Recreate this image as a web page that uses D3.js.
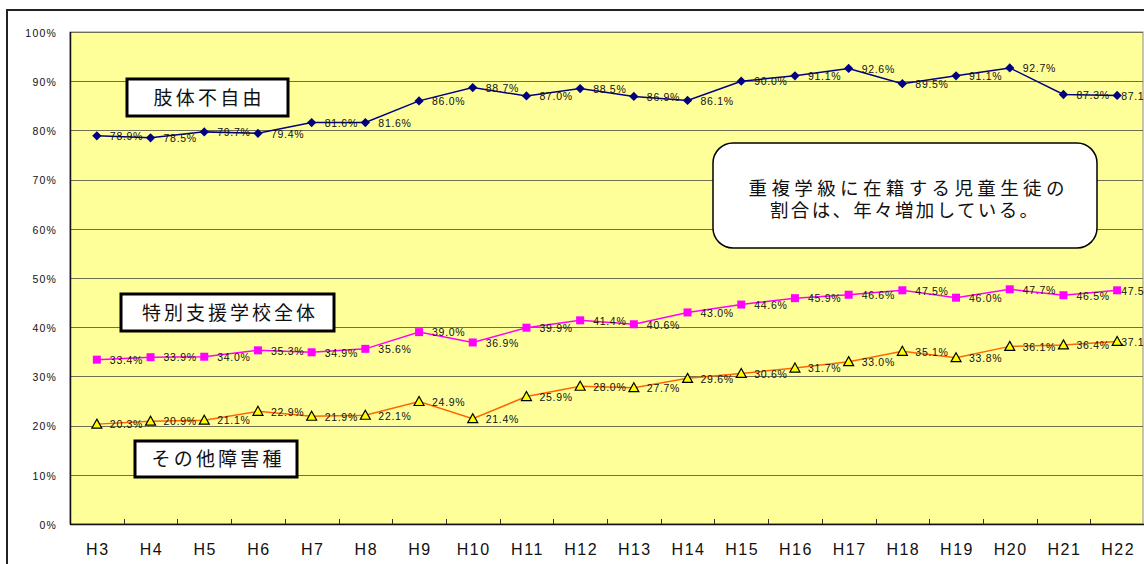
<!DOCTYPE html>
<html><head><meta charset="utf-8">
<script src="https://cdn.jsdelivr.net/npm/d3@7"></script>
<style>
html,body{margin:0;padding:0;background:#fff;}
svg{display:block;}
</style></head>
<body>
<svg id="c" width="1144" height="564"></svg>
<script>
const categories = ["H3","H4","H5","H6","H7","H8","H9","H10","H11","H12","H13","H14","H15","H16","H17","H18","H19","H20","H21","H22"];
const physical = [78.9,78.5,79.7,79.4,81.6,81.6,86.0,88.7,87.0,88.5,86.9,86.1,90.0,91.1,92.6,89.5,91.1,92.7,87.3,87.1];
const allSchools = [33.4,33.9,34.0,35.3,34.9,35.6,39.0,36.9,39.9,41.4,40.6,43.0,44.6,45.9,46.6,47.5,46.0,47.7,46.5,47.5];
const others = [20.3,20.9,21.1,22.9,21.9,22.1,24.9,21.4,25.9,28.0,27.7,29.6,30.6,31.7,33.0,35.1,33.8,36.1,36.4,37.1];
const yTicks = [0,10,20,30,40,50,60,70,80,90,100];
const seriesNames = ["肢体不自由","特別支援学校全体","その他障害種"];
const noteLines = ["重複学級に在籍する児童生徒の","割合は、年々増加している。"];

const svg = d3.select("#c");
const L = 70, R = 1144, T = 32, B = 524;
const x = d3.scaleBand().domain(categories).range([L, R]);
const y = d3.scaleLinear().domain([0, 100]).range([B, T]);
const cx = c => x(c) + x.bandwidth() / 2;
const lastCat = categories[categories.length - 1];
const cjkFont = "Liberation Sans, Noto Sans CJK JP, sans-serif";

// outer frame
svg.append("rect").attr("x", 7).attr("y", 10).attr("width", 1160).attr("height", 570)
  .attr("fill", "#fff").attr("stroke", "#222").attr("stroke-width", 2);

// plot area
svg.append("rect").attr("x", L).attr("y", T).attr("width", R - L - 1).attr("height", B - T)
  .attr("fill", "#FFFF99").attr("stroke", "#8a8a8a").attr("stroke-width", 1);

// gridlines
svg.append("g").selectAll("line").data(yTicks.filter(t => t > 0)).join("line")
  .attr("x1", L).attr("x2", R - 1)
  .attr("y1", d => Math.round(y(d)) + 0.5).attr("y2", d => Math.round(y(d)) + 0.5)
  .attr("stroke", "#6e6e50").attr("stroke-width", 1);

// y labels
svg.append("g").selectAll("text").data(yTicks).join("text")
  .attr("x", 57).attr("y", d => y(d) + 2)
  .attr("text-anchor", "end").attr("dominant-baseline", "middle")
  .attr("font-family", "Liberation Sans, Arial, sans-serif").attr("font-size", 10.5)
  .attr("letter-spacing", 1.2).attr("fill", "#111")
  .text(d => d + "%");

// axes lines
svg.append("line").attr("x1", L + 0.5).attr("x2", L + 0.5).attr("y1", T).attr("y2", B)
  .attr("stroke", "#111").attr("stroke-width", 1.5);
svg.append("line").attr("x1", L).attr("x2", R).attr("y1", B + 0.5).attr("y2", B + 0.5)
  .attr("stroke", "#111").attr("stroke-width", 1.5);

// x ticks at category boundaries
svg.append("g").selectAll("line").data(categories.slice(1)).join("line")
  .attr("x1", d => Math.round(x(d)) + 0.5).attr("x2", d => Math.round(x(d)) + 0.5)
  .attr("y1", B).attr("y2", B - 5).attr("stroke", "#333").attr("stroke-width", 1);

// x labels
svg.append("g").selectAll("text").data(categories).join("text")
  .attr("x", d => cx(d) + 1).attr("y", 555)
  .attr("text-anchor", "middle")
  .attr("font-family", "Liberation Sans, Arial, sans-serif").attr("font-size", 16)
  .attr("letter-spacing", 1.5).attr("fill", "#111")
  .text(d => d);

function drawSeries(vals, lineColor, markerFn) {
  const pts = categories.map((c, i) => [cx(c), y(vals[i]), vals[i], c]);
  svg.append("path").datum(pts)
    .attr("d", d3.line().x(d => d[0]).y(d => d[1]))
    .attr("fill", "none").attr("stroke", lineColor).attr("stroke-width", 1.5);
  const g = svg.append("g");
  pts.forEach(p => markerFn(g, p[0], p[1]));
  svg.append("g").selectAll("text").data(pts).join("text")
    .attr("x", d => d[0] + (d[3] === lastCat ? 4 : 13)).attr("y", d => d[1] + 1.5)
    .attr("dominant-baseline", "middle")
    .attr("font-family", "Liberation Sans, Arial, sans-serif").attr("font-size", 10.5)
    .attr("letter-spacing", 0.7).attr("fill", "#111")
    .text(d => d[2].toFixed(1) + "%");
}

drawSeries(physical, "#000080", (g, px, py) => {
  g.append("path").attr("d", d3.symbol(d3.symbolDiamond2 || d3.symbolDiamond, 55)())
    .attr("transform", `translate(${px},${py})`)
    .attr("fill", "#000080");
});
drawSeries(allSchools, "#FF00FF", (g, px, py) => {
  g.append("rect").attr("x", px - 4).attr("y", py - 4).attr("width", 8).attr("height", 8)
    .attr("fill", "#FF00FF");
});
drawSeries(others, "#FF6600", (g, px, py) => {
  g.append("path").attr("d", `M${px},${py - 5}L${px + 5},${py + 4}L${px - 5},${py + 4}Z`)
    .attr("fill", "#FFFF00").attr("stroke", "#000").attr("stroke-width", 1.2);
});

// labelled boxes
const boxes = [
  {t: seriesNames[0], x: 127, y: 79, w: 161, h: 37, tx: 207.5, tl: 108},
  {t: seriesNames[1], x: 121, y: 294, w: 213, h: 37, tx: 228.5, tl: 173},
  {t: seriesNames[2], x: 135, y: 441, w: 162, h: 36, tx: 216.5, tl: 130}
];
boxes.forEach(b => {
  svg.append("rect").attr("x", b.x).attr("y", b.y).attr("width", b.w).attr("height", b.h)
    .attr("fill", "#fff").attr("stroke", "#000").attr("stroke-width", 3);
  svg.append("text").attr("x", b.tx).attr("y", b.y + b.h / 2 + 7)
    .attr("text-anchor", "middle")
    .attr("font-family", cjkFont).attr("font-size", 19)
    .attr("textLength", b.tl).attr("lengthAdjust", "spacing")
    .attr("fill", "#111")
    .text(b.t);
});

// rounded note
svg.append("rect").attr("x", 713).attr("y", 143).attr("width", 384).attr("height", 105)
  .attr("rx", 20).attr("ry", 20)
  .attr("fill", "#fff").attr("stroke", "#000").attr("stroke-width", 1.5);
const noteX = [906.5, 904], noteLen = [316, 268];
const note = svg.append("text")
  .attr("text-anchor", "middle")
  .attr("font-family", cjkFont).attr("font-size", 18.5)
  .attr("fill", "#111");
note.selectAll("tspan").data(noteLines).join("tspan")
  .attr("x", (d, i) => noteX[i]).attr("y", (d, i) => 195 + i * 22)
  .attr("textLength", (d, i) => noteLen[i]).attr("lengthAdjust", "spacing")
  .text(d => d);
</script>
</body></html>
